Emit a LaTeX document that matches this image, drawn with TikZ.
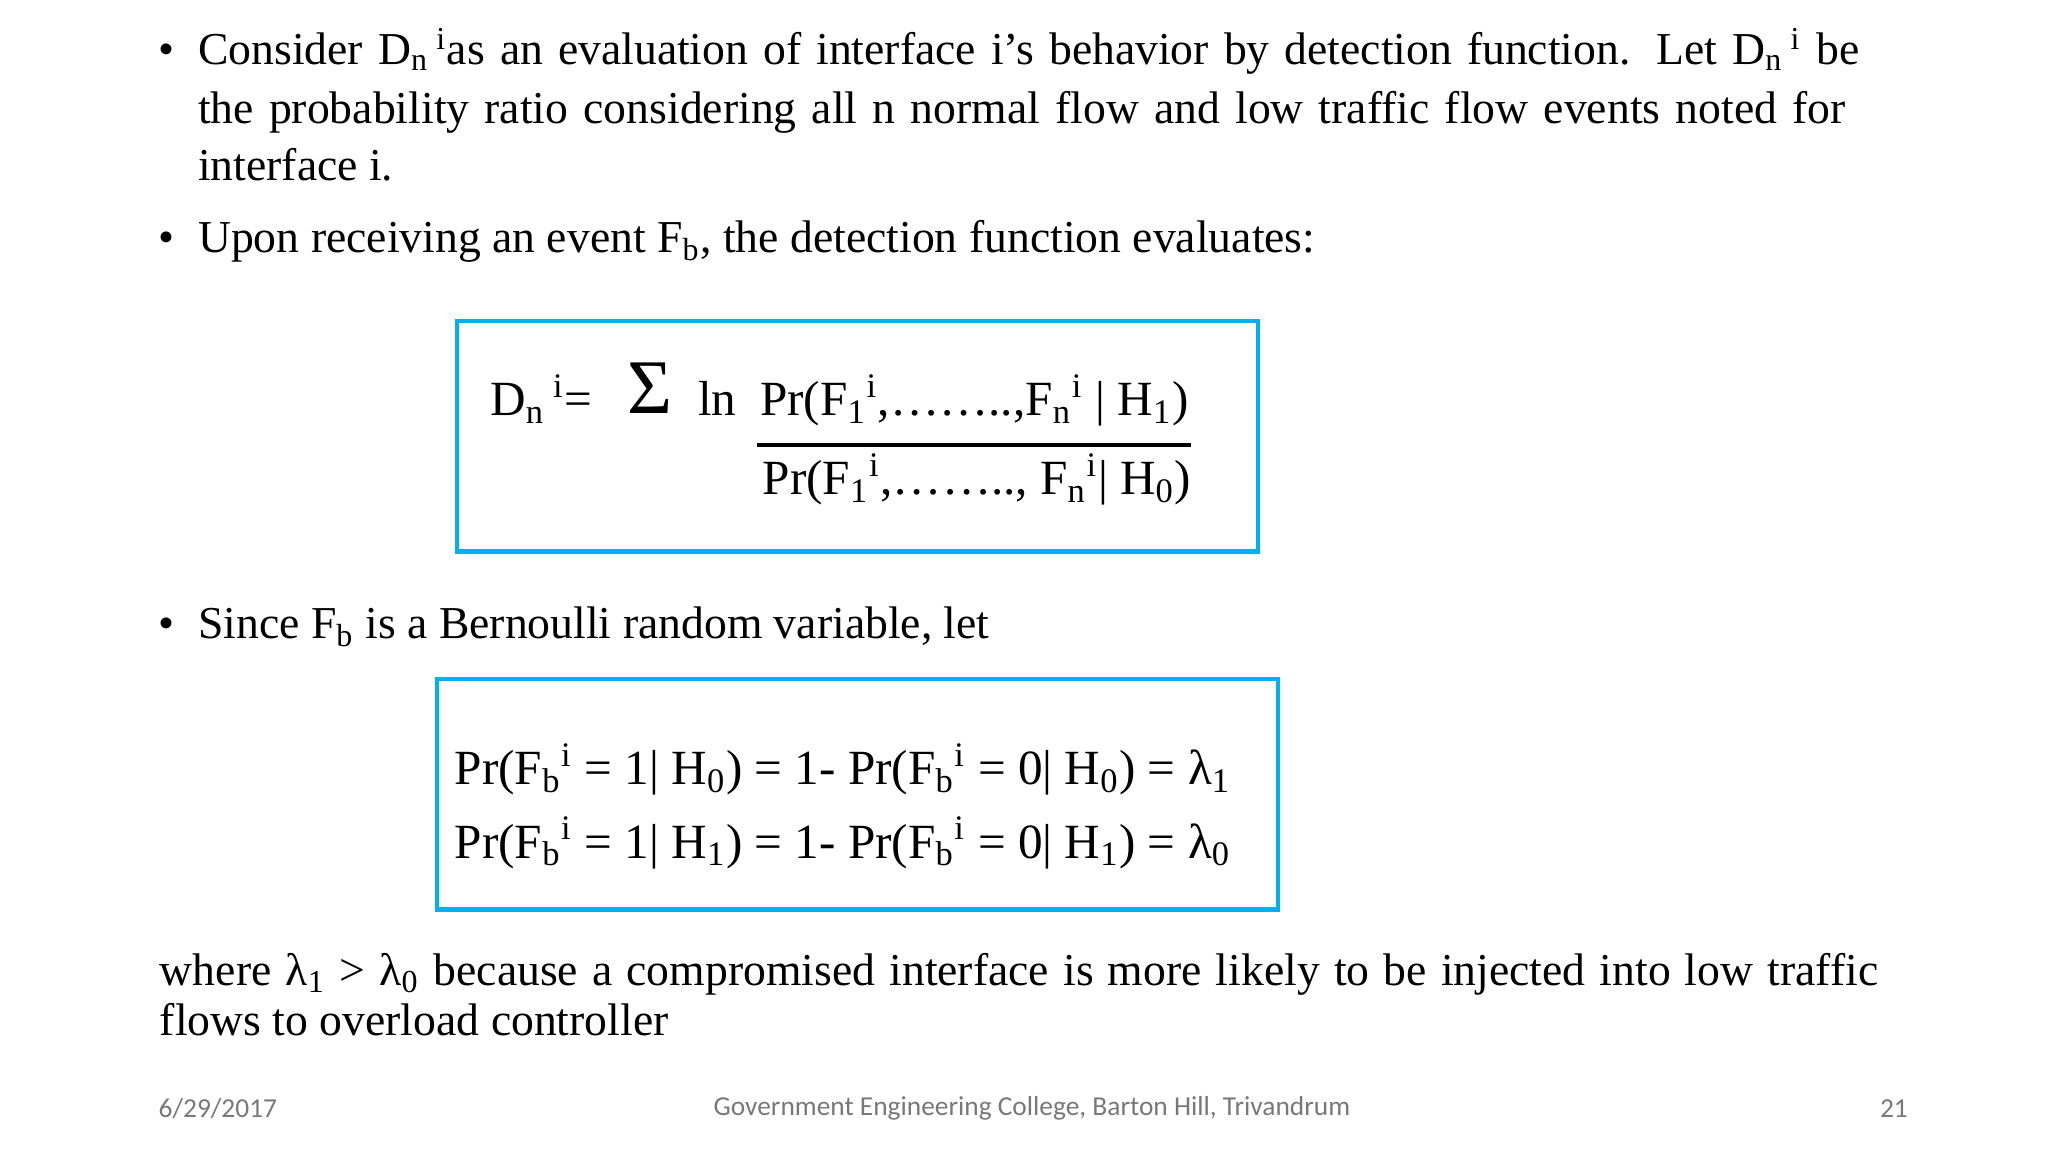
\documentclass[tikz,border=0pt]{standalone}
\usepackage{fontspec}
\setmainfont{Liberation Serif}
\newfontfamily\footfont{Carlito}
\definecolor{boxblue}{RGB}{0,176,240}
\definecolor{footgray}{RGB}{120,120,120}
\newcommand{\sbs}[1]{\textsubscript{#1}}
\newcommand{\sps}[1]{\textsuperscript{#1}}
\tikzset{
  txt/.style={anchor=base west, inner sep=0pt, font=\fontsize{13}{16}\selectfont},
  eq/.style={anchor=base west, inner sep=0pt, font=\fontsize{14}{17}\selectfont},
  foot/.style={inner sep=0pt, font=\footfont\fontsize{7.8}{9}\selectfont, text=footgray},
  eqbox/.style={draw=boxblue, line width=1.2pt}
}
\begin{document}
\begin{tikzpicture}[x=0.013162cm,y=-0.013162cm]
\useasboundingbox[fill=white] (0,0) rectangle (1556,875);
% bullet 1
\node[txt] (b1) at (120,49) {•};
\node[txt] (l1) at (150,49) {\makebox[16.62cm][s]{Consider D\sbs{n}\,\sps{i}as an evaluation of interface i’s behavior by detection function. Let D\sbs{n}\,\sps{i} be}};
\node[txt] (l2) at (150,94) {\makebox[16.48cm][s]{the probability ratio considering all n normal flow and low traffic flow events noted for}};
\node[txt] (l3) at (150,137) {interface i.};
% bullet 2
\node[txt] (b2) at (120,192) {•};
\node[txt] (l4) at (150,192) {Upon receiving an event F\sbs{b}, the detection function evaluates:};
% box 1
\draw[eqbox] (347,244) rectangle (956,419);
\node[eq] (dn) at (372,316) {D\sbs{n}\,\sps{i}=};
\node[anchor=base west, inner sep=0pt, font=\fontsize{22}{24}\selectfont] (sig) at (476,314) {Σ};
\node[eq] (ln) at (530,316) {ln};
\node[eq] (num) at (577,316) {Pr(F\sbs{1}\sps{i},……..,F\sbs{n}\sps{i} | H\sbs{1})};
\coordinate (fl) at (575,338);
\coordinate (fr) at (905,338);
\draw[line width=1.3pt] (fl) -- (fr);
\node[eq] (den) at (579,376) {Pr(F\sbs{1}\sps{i},…….., F\sbs{n}\sps{i}| H\sbs{0})};
% bullet 3
\node[txt] (b3) at (120,485) {•};
\node[txt] (l5) at (150,485) {Since F\sbs{b} is a Bernoulli random variable, let};
% box 2
\draw[eqbox] (332,516) rectangle (971,691);
\node[eq] (e1) at (345,596) {Pr(F\sbs{b}\sps{i} = 1| H\sbs{0}) = 1- Pr(F\sbs{b}\sps{i} = 0| H\sbs{0}) = λ\sbs{1}};
\node[eq] (e2) at (345,652) {Pr(F\sbs{b}\sps{i} = 1| H\sbs{1}) = 1- Pr(F\sbs{b}\sps{i} = 0| H\sbs{1}) = λ\sbs{0}};
% where
\node[txt] (w1) at (121,749) {\makebox[17.19cm][s]{where λ\sbs{1} > λ\sbs{0} because a compromised interface is more likely to be injected into low traffic}};
\node[txt] (w2) at (121,787) {flows to overload controller};
% footer
\node[foot, anchor=west] (date) at (120,842) {6/29/2017};
\node[foot] (col) at (784,842) {Government Engineering College, Barton Hill, Trivandrum};
\node[foot, anchor=east] (pg) at (1450,842) {21};
\end{tikzpicture}
\end{document}
